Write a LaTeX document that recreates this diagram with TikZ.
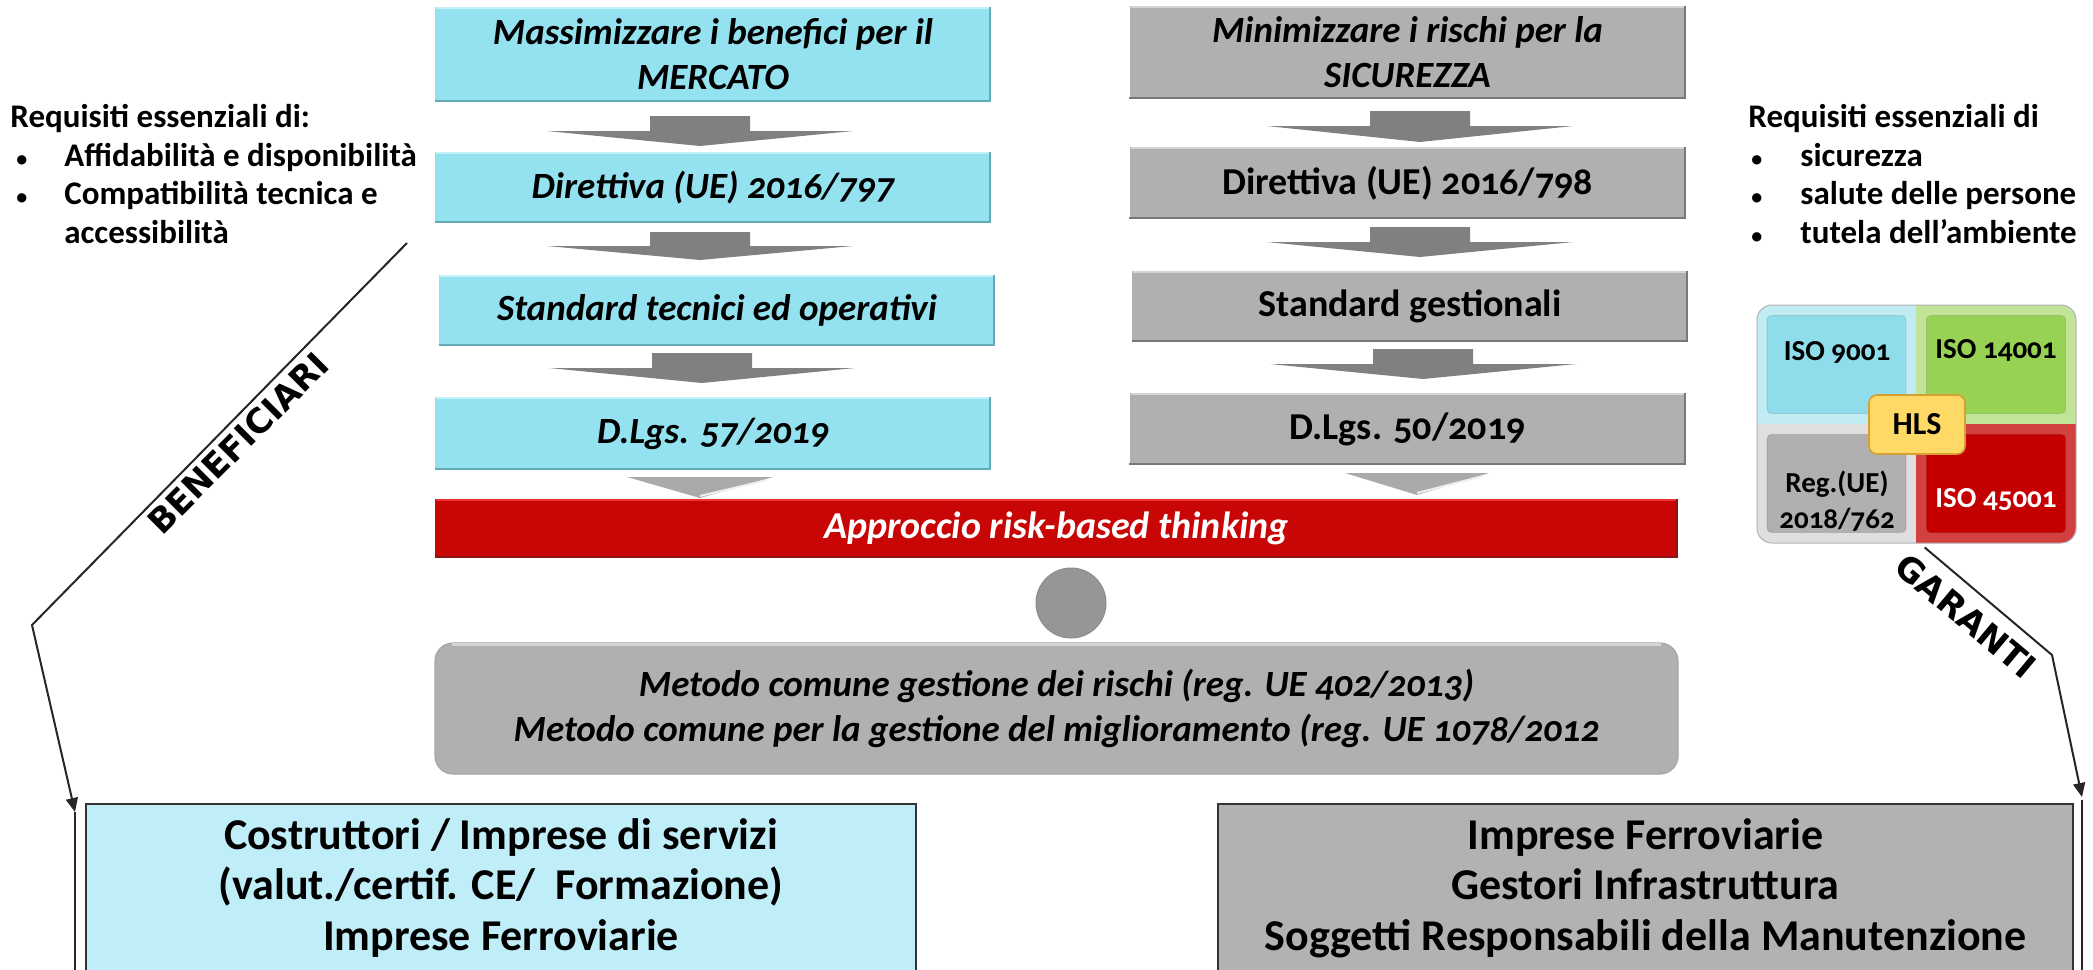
\documentclass[tikz,border=0pt]{standalone}
\usepackage{fontspec}
\setmainfont{Carlito}[Numbers=OldStyle]
\newfontfamily\vfont{DejaVu Sans}
\usetikzlibrary{arrows.meta,calc}
\definecolor{cyanface}{RGB}{148,226,240}
\definecolor{cyanlight}{RGB}{196,240,248}
\definecolor{cyandark}{RGB}{100,170,185}
\definecolor{grayface}{RGB}{176,176,176}
\definecolor{graylight}{RGB}{212,212,212}
\definecolor{graydark}{RGB}{120,120,120}
\definecolor{arrowgray}{RGB}{128,128,128}
\definecolor{arrowlight}{RGB}{170,170,170}
\definecolor{redface}{RGB}{200,6,6}
\definecolor{redlight}{RGB}{240,50,50}
\definecolor{reddark}{RGB}{140,20,20}
\definecolor{ballgray}{RGB}{150,150,150}
\definecolor{botcyan}{RGB}{192,238,248}
\definecolor{botgray}{RGB}{178,178,178}
\definecolor{isocyan}{RGB}{143,221,235}
\definecolor{isogreen}{RGB}{152,210,84}
\definecolor{isogray}{RGB}{176,176,176}
\definecolor{isored}{RGB}{196,0,0}
\definecolor{hlsfill}{RGB}{255,217,102}
\definecolor{hlsdraw}{RGB}{215,160,50}
\newcommand\mybevel[3]{%
  \draw[#2,line width=1.2pt] ($(#1.north west)+(1.5,1.5)$) -- ($(#1.north east)+(-1.5,1.5)$);
  \draw[#3,line width=1.2pt] ($(#1.south west)+(0,-1.2)$) -- ($(#1.south east)+(-1.2,-1.2)$) -- ($(#1.north east)+(-1.2,0)$);}
\newcommand\blockarr[4]{%
  \fill[arrowgray] (#1-50,#2) -- (#1+50,#2) -- (#1+50,#3) -- (#1+153,#3) -- (#1,#4) -- (#1-153,#3) -- (#1-50,#3) -- cycle;}
\newcommand\lightarr[4]{%
  \fill[arrowlight] (#1-#4,#2) -- (#1+#4,#2) -- (#1,#3) -- cycle;
  \draw[white!80!arrowlight,line width=1pt] (#1+#4-6,#2+3) -- (#1,#3-2);}
\newcommand\smallbul{{\fontsize{11}{11}\selectfont\textbullet}}
\begin{document}
\begin{tikzpicture}[x=0.5pt,y=-0.5pt,
  colbox/.style={rectangle,inner sep=0pt,minimum width=278pt,align=center,
    font=\fontsize{19}{22.5}\selectfont\bfseries},
  itbox/.style={font=\fontsize{18.5}{22.5}\selectfont\bfseries\itshape},
  cbox/.style={colbox,fill=cyanface},
  gbox/.style={colbox,fill=grayface},
  reqtext/.style={inner sep=0pt,align=left,font=\fontsize{16.5}{19.25}\selectfont\bfseries},
  conn/.style={draw=black!85,line width=1pt},
  quad/.style={rectangle,inner sep=0pt,minimum width=80pt,minimum height=59.5pt},
  isotext/.style={inner sep=0pt,align=center,font=\fontsize{14.5}{18}\selectfont\bfseries},
  bigbox/.style={rectangle,draw=black!80,line width=0.8pt,inner sep=0pt,align=center,
    minimum height=84pt,font=\fontsize{22}{25.25}\selectfont\bfseries},
  slanted/.style={inner sep=0pt,font=\vfont\bfseries\fontsize{17}{17}\selectfont}]
\useasboundingbox (0,0) rectangle (2093,969);

% left column
\node[cbox,minimum height=47.5pt,itbox] (L1) at (713,54.5) {Massimizzare i benefici per il\\MERCATO};
\node[cbox,minimum height=35.5pt,itbox] (L2) at (713,187.5) {Direttiva (UE) 2016/797};
\node[cbox,minimum height=35.5pt,itbox] (L3) at (717,310.5) {Standard tecnici ed operativi};
\node[cbox,minimum height=36.5pt,itbox] (L4) at (713,433.5) {D.Lgs. 57/2019};
\foreach \n in {L1,L2,L3,L4} {\mybevel{\n}{cyanlight}{cyandark}}

% right column
\node[gbox,minimum height=46.5pt,itbox] (R1) at (1407.5,52.5) {Minimizzare i rischi per la\\SICUREZZA};
\node[gbox,minimum height=36pt] (R2) at (1407.5,183) {Direttiva (UE) 2016/798};
\node[gbox,minimum height=35.5pt] (R3) at (1410,306.5) {Standard gestionali};
\node[gbox,minimum height=36pt] (R4) at (1407.5,429) {D.Lgs. 50/2019};
\foreach \n in {R1,R2,R3,R4} {\mybevel{\n}{graylight}{graydark}}

% block arrows
\blockarr{700}{116}{131}{146}
\blockarr{700}{232}{246}{260}
\blockarr{702}{353}{368}{383}
\blockarr{1420}{111}{126}{142}
\blockarr{1420}{227}{242}{257}
\blockarr{1423}{349}{364}{379}
\lightarr{700}{477}{498}{73}
\lightarr{1417}{473}{495}{72}

% red bar
\node[rectangle,inner sep=0pt,fill=redface,minimum width=621.5pt,minimum height=29.5pt,
  text=white,font=\fontsize{19}{20}\selectfont\bfseries\itshape] (risk) at (1056.5,528.5) {Approccio risk-based thinking};
\mybevel{risk}{redlight}{reddark}

% ball
\node[circle,inner sep=0pt,minimum size=35pt,fill=ballgray,draw=black!45,line width=0.5pt] (ball) at (1071,603) {};

% metodo box
\node[rectangle,rounded corners=9pt,inner sep=0pt,fill=grayface,draw=black!35,line width=0.6pt,
  minimum width=621.5pt,minimum height=65.5pt,align=center,
  font=\fontsize{18.5}{22.5}\selectfont\bfseries\itshape] (met) at (1056.5,708.5)
  {Metodo comune gestione dei rischi (reg. UE 402/2013)\\Metodo comune per la gestione del miglioramento (reg. UE 1078/2012};
\draw[graylight,line width=1.2pt] ($(met.north west)+(18,2)$) -- ($(met.north east)+(-18,2)$);

% requisiti texts
\node[reqtext,anchor=north west] (reqL) at (10,104) {Requisiti essenziali di:\\
\hspace*{3pt}\makebox[24pt][l]{\smallbul}Affidabilità e disponibilità\\
\hspace*{3pt}\makebox[24pt][l]{\smallbul}Compatibilità tecnica e\\
\hspace*{27pt}accessibilità};
\node[reqtext,anchor=north west] (reqR) at (1748,104) {Requisiti essenziali di\\
\hspace*{1.5pt}\makebox[24.5pt][l]{\smallbul}sicurezza\\
\hspace*{1.5pt}\makebox[24.5pt][l]{\smallbul}salute delle persone\\
\hspace*{1.5pt}\makebox[24.5pt][l]{\smallbul}tutela dell'ambiente};

% ISO block
\begin{scope}
\clip[rounded corners=7.5pt] (1757,305) rectangle (2076,543);
\node[quad,fill=isocyan!55!white] (q9) at (1836.5,364.5) {};
\node[quad,fill=isogreen!60!white] (q14) at (1996,364.5) {};
\node[quad,fill=isogray!40!white] (qreg) at (1836.5,483.5) {};
\node[quad,fill=isored!75!white] (q45) at (1996,483.5) {};
\fill[isored!75!black] ($(q45.south west)+(0,10)$) rectangle (q45.south east);
\foreach \q/\c in {q9/isocyan,q14/isogreen,qreg/isogray,q45/isored}
  {\fill[\c,rounded corners=2pt] ($(\q.north west)+(11,11)$) rectangle ($(\q.south east)+(-11,-11)$);
   \draw[\c!75!black,line width=0.4pt,opacity=0.4,rounded corners=2pt] ($(\q.north west)+(11,11)$) rectangle ($(\q.south east)+(-11,-11)$);}
\end{scope}
\draw[black!30,line width=0.5pt,rounded corners=7.5pt] (1757,305) rectangle (2076,543);
\node[isotext] (t9) at (1837,352) {ISO 9001};
\node[isotext] (t14) at (1996,350) {ISO 14001};
\node[isotext] (treg) at (1837,501) {Reg.(UE)\\2018/762};
\node[isotext,text=white] (t45) at (1996,500) {ISO 45001};
\node[rectangle,rounded corners=4pt,inner sep=0pt,fill=hlsfill,draw=hlsdraw,line width=0.8pt,
  minimum width=48pt,minimum height=29.5pt,font=\fontsize{16}{18}\selectfont\bfseries] (hls) at (1917,424.5) {HLS};

% bottom boxes
\node[bigbox,fill=botcyan,minimum width=415pt] (cos) at (501,888)
  {Costruttori / Imprese di servizi\\(valut./certif. CE/~ Formazione)\\Imprese Ferroviarie};
\node[bigbox,fill=botgray,minimum width=427.5pt] (gar) at (1645.5,888)
  {Imprese Ferroviarie\\Gestori Infrastruttura\\Soggetti Responsabili della Manutenzione};

% BENEFICIARI connector
\coordinate (b0) at (407,243);
\coordinate (b1) at (32,625);
\coordinate (b2) at (75,812);
\coordinate (b3) at (75,975);
\draw[conn,-{Triangle[length=7pt,width=6pt]}] (b0) -- (b1) -- (b2);
\draw[conn] (b2) -- (b3);
\node[slanted,rotate=45] (benef) at (238,443) {BENEFICIARI};

% GARANTI connector
\coordinate (g0) at ($(q45.south west)+(9,4)$);
\coordinate (g1) at (2052,655);
\coordinate (g2) at (2082,797);
\coordinate (g3) at (2082,975);
\draw[conn,-{Triangle[length=7pt,width=6pt]}] (g0) -- (g1) -- (g2);
\draw[conn] ($(g2)+(0,3)$) -- (g3);
\node[slanted,rotate=-40] (garanti) at (1966,616) {GARANTI};
\end{tikzpicture}
\end{document}
